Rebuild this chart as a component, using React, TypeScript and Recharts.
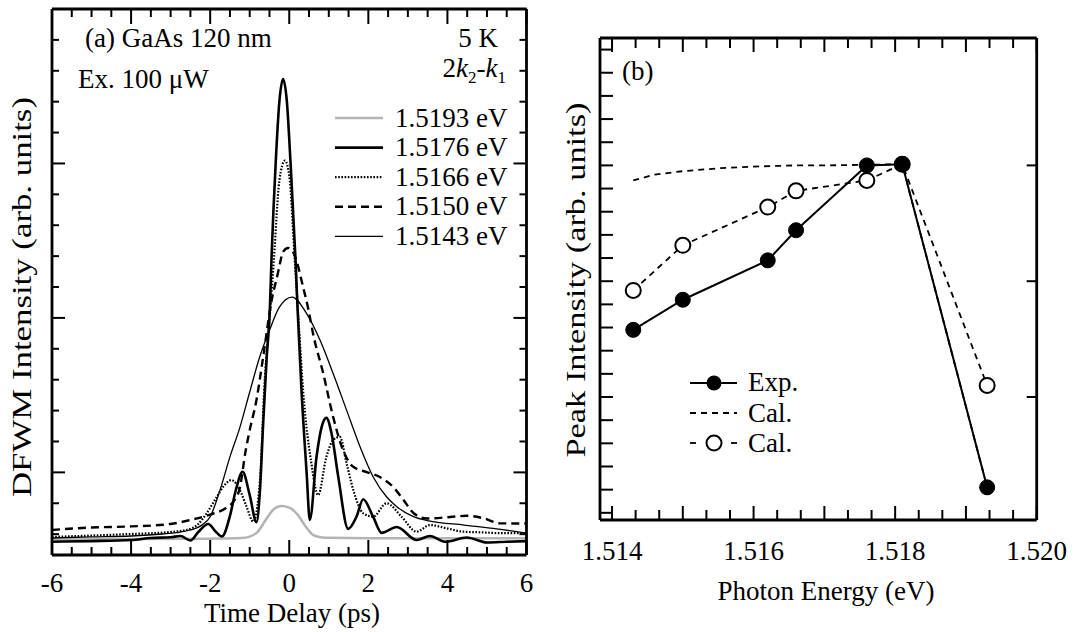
import { LineChart, Line, XAxis, YAxis, Legend } from "recharts"

const FONT = '"Liberation Serif", "Times New Roman", Times, serif'

// (a) DFWM traces: delay (ps) and intensity (arb. units)
const delay1519 = [-6, -4, -2, -1.2, -1.0, -0.8, -0.6, -0.4, -0.2, 0, 0.2, 0.4, 0.6, 0.8, 1.0, 2.0, 4.0, 6.0]
const dfwm1519 = [0.566, 0.568, 0.571, 0.575, 0.584, 0.615, 0.69, 0.76, 0.782, 0.772, 0.73, 0.655, 0.595, 0.58, 0.576, 0.574, 0.573, 0.573]

const delay1176 = [-6, -5, -4, -3.5, -3, -2.75, -2.5, -2.3, -2.05, -1.85, -1.7, -1.5, -1.35, -1.18, -1.0, -0.83, -0.74, -0.66, -0.57, -0.49, -0.45, -0.34, -0.25, -0.155, -0.06, 0.03, 0.16, 0.21, 0.31, 0.44, 0.52, 0.69, 0.82, 0.94, 1.07, 1.24, 1.49, 1.7, 1.87, 2.12, 2.34, 2.72, 3.22, 3.56, 3.94, 4.49, 5.0, 5.5, 6.0]
const dfwm1176 = [0.551, 0.555, 0.562, 0.575, 0.58, 0.588, 0.559, 0.614, 0.666, 0.614, 0.585, 0.718, 0.886, 1.004, 0.853, 0.678, 0.886, 1.317, 1.745, 2.061, 2.372, 3.018, 3.4, 3.547, 3.4, 3.018, 2.372, 2.061, 1.531, 0.995, 0.692, 1.101, 1.295, 1.353, 1.252, 0.971, 0.634, 0.713, 0.826, 0.713, 0.608, 0.646, 0.562, 0.588, 0.551, 0.578, 0.546, 0.551, 0.555]

const delay1166 = [-6, -5, -4, -3, -2.6, -2.3, -2.09, -1.85, -1.67, -1.46, -1.25, -1.08, -0.91, -0.74, -0.62, -0.5, -0.39, -0.25, -0.11, 0.0, 0.14, 0.25, 0.35, 0.56, 0.73, 0.94, 1.11, 1.28, 1.45, 1.62, 1.87, 2.12, 2.46, 2.84, 3.22, 3.56, 3.98, 4.4, 4.83, 5.42, 6.0]
const dfwm1166 = [0.582, 0.591, 0.601, 0.614, 0.627, 0.666, 0.735, 0.834, 0.907, 0.95, 0.886, 0.778, 0.681, 0.95, 1.597, 1.985, 2.372, 2.889, 3.018, 2.922, 2.372, 1.92, 1.532, 1.058, 0.853, 1.101, 1.209, 1.23, 1.058, 0.886, 0.735, 0.713, 0.8, 0.713, 0.616, 0.659, 0.638, 0.616, 0.612, 0.606, 0.606]

const delay1150 = [-6, -5, -4, -3, -2.5, -2.0, -1.6, -1.4, -1.25, -1.1, -1.0, -0.83, -0.66, -0.45, -0.3, -0.15, -0.03, 0.1, 0.18, 0.35, 0.48, 0.6, 0.86, 1.11, 1.36, 1.62, 1.96, 2.29, 2.63, 2.89, 3.14, 3.48, 4.07, 4.49, 4.91, 5.33, 6.0]
const dfwm1150 = [0.627, 0.643, 0.65, 0.666, 0.692, 0.727, 0.769, 0.815, 0.899, 1.144, 1.273, 1.467, 1.747, 2.107, 2.275, 2.43, 2.453, 2.424, 2.372, 2.2, 2.06, 1.9, 1.64, 1.359, 1.144, 1.036, 1.002, 0.97, 0.905, 0.821, 0.737, 0.701, 0.711, 0.719, 0.703, 0.67, 0.669]

const delay1143 = [-6, -5, -4, -3.2, -2.84, -2.5, -2.2, -2.0, -1.75, -1.5, -1.25, -1.0, -0.75, -0.5, -0.25, 0.07, 0.44, 0.78, 1.11, 1.45, 1.79, 2.12, 2.46, 2.72, 3.14, 3.56, 4.41, 5.25, 6.0]
const dfwm1143 = [0.575, 0.582, 0.588, 0.601, 0.61, 0.627, 0.66, 0.713, 0.886, 1.1, 1.29, 1.52, 1.745, 1.92, 2.07, 2.135, 2.028, 1.855, 1.64, 1.403, 1.166, 0.972, 0.842, 0.778, 0.713, 0.685, 0.659, 0.634, 0.606]

// (b) peak intensity vs photon energy (eV)
const energyExp = [1.5143, 1.515, 1.5162, 1.5166, 1.5176, 1.5181, 1.5193]
const peakExp = [1.58, 1.84, 2.18, 2.44, 3.0, 3.01, 0.22]
const energyCalPts = [1.5143, 1.515, 1.5162, 1.5166, 1.5176, 1.5181, 1.5193]
const peakCalPts = [1.92, 2.31, 2.64, 2.78, 2.87, 3.01, 1.1]
const energyCal = [1.5143, 1.5146, 1.515, 1.5155, 1.516, 1.5166, 1.517, 1.5176, 1.5181, 1.5193]
const peakCal = [2.87, 2.92, 2.95, 2.975, 2.99, 3.0, 3.0, 3.005, 3.01, 0.22]

const delayLabels = [-6, -4, -2, 0, 2, 4, 6]
const energyLabels = ["1.514", "1.516", "1.518", "1.520"]

const zip = (xs: number[], ys: number[]) => xs.map((x, i) => ({ x, y: ys[i] }))

const seriesA = [
  { name: "1.5193 eV", data: zip(delay1519, dfwm1519), stroke: "#b4b4b4", width: 2.5, dash: undefined },
  { name: "1.5176 eV", data: zip(delay1176, dfwm1176), stroke: "#000", width: 2.6, dash: undefined },
  { name: "1.5166 eV", data: zip(delay1166, dfwm1166), stroke: "#000", width: 2.2, dash: "1.6 1.6" },
  { name: "1.5150 eV", data: zip(delay1150, dfwm1150), stroke: "#000", width: 2.4, dash: "8 5" },
  { name: "1.5143 eV", data: zip(delay1143, dfwm1143), stroke: "#000", width: 1.3, dash: undefined },
]
const drawOrder = [0, 4, 3, 2, 1]

const range = (from: number, step: number, n: number) =>
  Array.from({ length: n }, (_, k) => Math.round((from + k * step) * 1e7) / 1e7)

const delayTicks = range(-6, 0.5, 25)
const dfwmTicks = range(0.6, 0.2, 18)
const energyTicks = range(1.514, 0.001 / 3, 19)
const peakTicks = range(0, 0.2, 21)

const near = (a: number, b: number, eps = 1e-6) => Math.abs(a - b) < eps
const isInt = (v: number) => near(v, Math.round(v))

type Side = "bottom" | "top" | "left" | "right"

const makeTick = (
  side: Side,
  isMajor: (v: number) => boolean,
  long: number,
  short: number,
  label?: (v: number) => string | null,
  labelDy = 0
) => (props: any) => {
  const { x, y, payload } = props
  const v = payload.value as number
  const len = isMajor(v) ? long : short
  let x2 = x
  let y2 = y
  if (side === "bottom") y2 = y - len
  if (side === "top") y2 = y + len
  if (side === "left") x2 = x + len
  if (side === "right") x2 = x - len
  const text = label ? label(v) : null
  return (
    <g>
      <line x1={x} y1={y} x2={x2} y2={y2} stroke="#000" strokeWidth={2} />
      {text && (
        <text x={x} y={y + labelDy} textAnchor="middle" fontFamily={FONT} fontSize={27} fill="#000">
          {text}
        </text>
      )}
    </g>
  )
}

// axes double as the box frame round each panel
const bare = {
  tickSize: 0, tickMargin: 0, tickLine: false, interval: 0 as const, allowDataOverflow: true,
  stroke: "#000", axisLine: { stroke: "#000", strokeWidth: 2.8 },
}

const delayMajor = (v: number) => near(v / 2, Math.round(v / 2))
const delayLabel = (v: number) => (delayLabels.some(l => near(l, v)) ? String(Math.round(v)) : null)
const energyMajor = (v: number) => near(v * 1000, Math.round(v * 1000), 1e-3)
const energyLabel = (v: number) => {
  const s = v.toFixed(3)
  return energyMajor(v) && energyLabels.includes(s) ? s : null
}

const LegendA = () => (
  <svg width={200} height={150} style={{ overflow: "visible" }}>
    {seriesA.map((s, i) => {
      const y = 8 + i * 29.6
      return (
        <g key={s.name}>
          <line x1={5} x2={53} y1={y} y2={y} stroke={s.stroke} strokeWidth={s.width} strokeDasharray={s.dash} />
          <text x={65} y={y + 8.5} fontFamily={FONT} fontSize={27} fill="#000">{s.name}</text>
        </g>
      )
    })}
  </svg>
)

const LegendB = () => (
  <svg width={130} height={100} style={{ overflow: "visible" }}>
    <line x1={5} x2={52} y1={13} y2={13} stroke="#000" strokeWidth={2} />
    <circle cx={29} cy={13} r={7.5} fill="#000" />
    <text x={63} y={21} fontFamily={FONT} fontSize={27}>Exp.</text>
    <line x1={5} x2={52} y1={43} y2={43} stroke="#000" strokeWidth={1.8} strokeDasharray="6 5" />
    <text x={63} y={51.5} fontFamily={FONT} fontSize={27}>Cal.</text>
    <line x1={5} x2={11} y1={73} y2={73} stroke="#000" strokeWidth={1.8} />
    <line x1={46} x2={52} y1={73} y2={73} stroke="#000" strokeWidth={1.8} />
    <circle cx={29} cy={73} r={7.5} fill="#fff" stroke="#000" strokeWidth={2} />
    <text x={63} y={81.5} fontFamily={FONT} fontSize={27}>Cal.</text>
  </svg>
)

export default function App() {
  return (
    <div style={{ position: "absolute", left: 0, top: 0, width: 1074, height: 632, background: "#fff" }}>
      <div style={{ position: "absolute", left: 0, top: 0 }}>
        <LineChart width={540} height={632} margin={{ top: 8, right: 12.5, bottom: 76, left: 51 }}>
          <XAxis xAxisId="b" type="number" dataKey="x" domain={[-6, 6]} ticks={delayTicks} height={1} {...bare}
            tick={makeTick("bottom", delayMajor, 15, 8, delayLabel, 37)} />
          <XAxis xAxisId="t" orientation="top" type="number" dataKey="x" domain={[-6, 6]} ticks={delayTicks} height={1} {...bare}
            tick={makeTick("top", delayMajor, 15, 8)} />
          <YAxis yAxisId="l" type="number" domain={[0.465, 4.0]} ticks={dfwmTicks} width={1} {...bare}
            tick={makeTick("left", isInt, 13, 7)} />
          <YAxis yAxisId="r" orientation="right" type="number" domain={[0.465, 4.0]} ticks={dfwmTicks} width={1} {...bare}
            tick={makeTick("right", isInt, 13, 7)} />
          {drawOrder.map(i => {
            const s = seriesA[i]
            return (
              <Line key={s.name} xAxisId="b" yAxisId="l" data={s.data} dataKey="y" name={s.name} type="monotone"
                stroke={s.stroke} strokeWidth={s.width} strokeDasharray={s.dash} dot={false} isAnimationActive={false} />
            )
          })}
          <Legend layout="vertical" align="center" verticalAlign="middle" content={() => <LegendA />}
            wrapperStyle={{ left: 330, top: 110, width: 200, height: 150 }} />
        </LineChart>
      </div>

      <div style={{ position: "absolute", left: 550, top: 0 }}>
        <LineChart width={524} height={632} margin={{ top: 37, right: 36.3, bottom: 111, left: 49 }}>
          <XAxis xAxisId="b" type="number" dataKey="x" domain={[1.51383, 1.52]} ticks={energyTicks} height={1} {...bare}
            tick={makeTick("bottom", energyMajor, 14, 10, energyLabel, 40)} />
          <XAxis xAxisId="t" orientation="top" type="number" dataKey="x" domain={[1.51383, 1.52]} ticks={energyTicks} height={1} {...bare}
            tick={makeTick("top", energyMajor, 14, 10)} />
          <YAxis yAxisId="l" type="number" domain={[-0.062, 4.1]} ticks={peakTicks} width={1} {...bare}
            tick={makeTick("left", () => true, 13, 13)} />
          <YAxis yAxisId="r" orientation="right" type="number" domain={[-0.062, 4.1]} ticks={[1, 2, 3]} width={1} {...bare}
            tick={makeTick("right", () => true, 10, 10)} />
          <Line xAxisId="b" yAxisId="l" data={zip(energyCal, peakCal)} dataKey="y" name="Cal." type="linear"
            stroke="#000" strokeWidth={1.8} strokeDasharray="6 5" dot={false} isAnimationActive={false} />
          <Line xAxisId="b" yAxisId="l" data={zip(energyCalPts, peakCalPts)} dataKey="y" name="Cal. pts" type="linear"
            stroke="#000" strokeWidth={1.8} strokeDasharray="6 5"
            dot={{ r: 7.5, fill: "#fff", stroke: "#000", strokeWidth: 2, strokeDasharray: "" }} isAnimationActive={false} />
          <Line xAxisId="b" yAxisId="l" data={zip(energyExp, peakExp)} dataKey="y" name="Exp." type="linear"
            stroke="#000" strokeWidth={2} dot={{ r: 7.5, fill: "#000", stroke: "#000", strokeWidth: 1 }} isAnimationActive={false} />
          <Legend layout="vertical" align="center" verticalAlign="middle" content={() => <LegendB />}
            wrapperStyle={{ left: 135, top: 370, width: 130, height: 100 }} />
        </LineChart>
      </div>

      <svg width={1074} height={632} style={{ position: "absolute", left: 0, top: 0, pointerEvents: "none" }}
        fontFamily={FONT} fill="#000">
        <text x={85} y={47} fontSize={27}>(a) GaAs 120 nm</text>
        <text x={78} y={88} fontSize={27}>Ex. 100 μW</text>
        <text x={498} y={47} fontSize={27} textAnchor="end">5 K</text>
        <text x={506} y={77} fontSize={27} textAnchor="end">
          2<tspan fontStyle="italic">k</tspan><tspan fontSize={17} dy={6}>2</tspan>
          <tspan dy={-6}>-</tspan><tspan fontStyle="italic">k</tspan><tspan fontSize={17} dy={6}>1</tspan>
        </text>
        <text x={622} y={80} fontSize={27}>(b)</text>
        <text x={292} y={622} fontSize={27} textAnchor="middle">Time Delay (ps)</text>
        <text x={826} y={600} fontSize={27} textAnchor="middle">Photon Energy (eV)</text>
        <text transform="translate(31,297) rotate(-90)" fontSize={27} textAnchor="middle"
          textLength={400} lengthAdjust="spacingAndGlyphs">DFWM Intensity (arb. units)</text>
        <text transform="translate(585,280) rotate(-90)" fontSize={27} textAnchor="middle"
          textLength={355} lengthAdjust="spacingAndGlyphs">Peak Intensity (arb. units)</text>
      </svg>
    </div>
  )
}
